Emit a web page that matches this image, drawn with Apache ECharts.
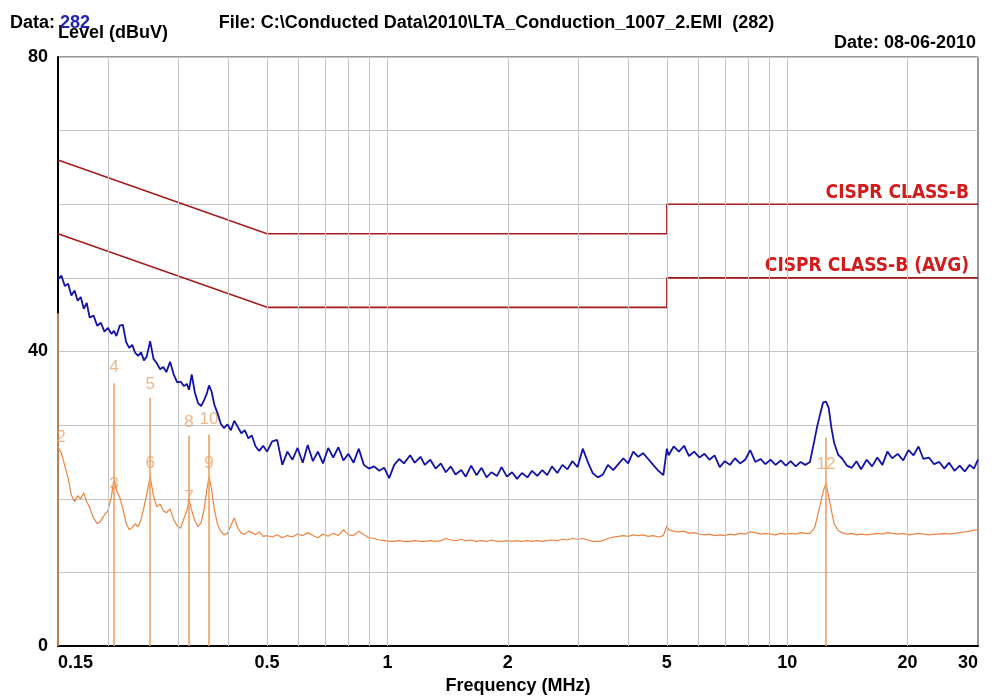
<!DOCTYPE html>
<html><head><meta charset="utf-8">
<script src="https://cdn.jsdelivr.net/npm/echarts@6/dist/echarts.min.js"></script>
<style>html,body{margin:0;padding:0;background:#fff}#c{width:993px;height:700px}</style>
</head><body><div id="c"></div>
<script>
// ---- data ----
const freqMHz = [
 0.150,0.153,0.156,0.159,0.162,0.165,0.168,0.171,0.174,0.177,
 0.180,0.184,0.188,0.192,0.196,0.200,0.204,0.207,0.210,0.214,
 0.218,0.222,0.226,0.230,0.234,0.238,0.242,0.246,0.250,0.255,
 0.260,0.265,0.270,0.275,0.280,0.286,0.292,0.298,0.304,0.310,
 0.315,0.319,0.324,0.330,0.336,0.342,0.348,0.353,0.358,0.363,
 0.369,0.376,0.383,0.390,0.398,0.406,0.414,0.422,0.431,0.440,
 0.449,0.458,0.468,0.478,0.489,0.500,
 0.515,0.530,0.546,0.562,0.579,0.596,0.614,0.632,0.651,0.670,
 0.690,0.711,0.732,0.754,0.776,0.799,0.823,0.848,0.873,0.899,
 0.926,0.954,0.982,1.01,1.04,1.07,1.10,1.14,1.17,1.21,
 1.24,1.28,1.32,1.36,1.40,1.44,1.48,1.53,1.57,1.62,
 1.67,1.72,1.77,1.82,1.88,1.93,1.99,2.05,2.11,2.17,
 2.24,2.30,2.37,2.44,
 2.51,2.58,2.66,2.74,2.82,2.90,2.99,3.08,3.17,3.26,
 3.36,3.46,3.56,3.67,3.78,3.89,4.00,4.12,4.24,4.36,
 4.49,4.62,4.76,4.90,5.00,5.05,5.20,5.36,5.52,5.68,
 5.85,6.03,6.21,6.39,6.58,6.78,6.98,7.19,7.40,7.62,
 7.85,8.08,8.32,8.57,8.82,9.08,9.35,9.63,9.92,10.2,
 10.5,10.8,11.1,
 11.4,11.7,11.9,12.1,12.3,12.5,12.7,12.9,13.1,13.4,
 13.7,14.1,14.5,14.9,15.3,15.8,16.3,16.8,17.3,17.8,
 18.3,18.9,19.5,20.1,20.7,21.3,21.9,22.6,23.3,24.0,
 24.7,25.4,26.2,27.0,27.8,28.6,29.3,30.0
];
const peakLevel = [
 49.8,50.3,48.9,49.2,47.6,48.3,46.9,47.4,45.8,46.6,
 44.6,44.9,43.5,43.9,42.7,43.2,42.4,42.8,42.1,43.5,
 43.6,41.3,40.5,40.9,39.8,39.4,39.9,38.8,39.3,41.4,
 39.0,38.4,37.6,37.9,37.2,38.6,36.9,35.8,35.9,35.3,
 35.6,34.8,36.9,34.4,33.0,32.6,33.4,34.2,35.4,34.6,
 32.8,31.6,30.2,29.6,30.1,29.3,30.6,29.8,28.9,29.3,
 28.2,28.6,27.1,26.5,27.2,26.4,
 27.8,28.0,24.6,26.4,25.3,26.9,24.9,27.3,25.1,26.4,
 24.8,26.9,25.6,27.0,25.2,26.1,24.9,26.8,24.6,24.1,
 24.4,23.8,24.2,22.8,24.6,25.4,24.8,25.9,24.9,25.7,
 24.6,25.3,24.1,24.8,23.6,24.4,23.3,23.9,23.0,24.5,
 23.2,24.2,22.9,23.6,23.1,24.3,23.0,23.6,22.7,23.5,
 22.9,23.8,23.1,23.9,
 23.2,24.4,23.5,24.6,24.0,25.1,24.3,26.8,25.0,23.5,
 22.9,23.3,24.6,23.9,24.7,25.5,24.8,26.4,25.7,26.2,
 25.4,24.6,23.8,23.2,26.8,25.9,27.1,26.4,27.2,25.8,
 26.4,25.6,26.1,25.3,25.9,24.3,25.1,24.6,25.5,24.8,
 25.3,26.6,25.0,25.4,24.7,25.3,24.6,25.2,24.5,25.1,
 24.4,25.0,24.6,
 25.0,28.0,30.0,31.6,33.1,33.2,32.3,29.6,27.6,26.0,
 25.5,24.5,24.2,25.1,24.0,25.3,24.4,25.6,24.6,26.4,
 25.5,26.1,25.2,26.6,25.9,27.1,25.4,25.6,24.7,25.0,
 24.1,24.9,23.8,24.5,23.7,24.6,24.1,25.3
];
const avgLevel = [
 27.0,26.2,24.5,22.8,20.5,19.6,20.4,20.0,20.8,19.6,
 18.8,17.4,16.6,17.0,17.8,18.4,20.3,22.6,21.2,20.2,
 18.6,16.7,15.8,16.1,16.6,16.2,17.2,18.8,20.6,23.0,
 20.4,18.9,19.3,18.4,18.1,18.6,17.2,16.3,16.0,17.4,
 18.3,19.9,18.4,17.0,16.2,16.8,18.6,21.0,23.0,21.4,
 18.6,16.5,15.6,15.1,15.3,16.4,17.4,16.1,15.3,15.2,
 15.6,15.4,15.1,15.5,14.9,15.0,
 14.8,15.1,14.7,15.0,14.8,15.2,15.0,15.4,15.0,14.7,
 15.2,14.9,15.3,15.0,15.8,15.1,15.0,15.6,15.1,14.7,
 14.6,14.4,14.3,14.2,14.2,14.3,14.2,14.2,14.3,14.2,
 14.2,14.3,14.2,14.3,14.6,14.4,14.3,14.5,14.3,14.4,
 14.2,14.3,14.2,14.4,14.2,14.2,14.3,14.2,14.3,14.2,
 14.3,14.2,14.3,14.2,
 14.3,14.4,14.3,14.5,14.4,14.6,14.5,14.6,14.4,14.2,
 14.2,14.3,14.6,14.8,14.9,15.0,14.9,15.1,15.0,15.1,
 14.9,15.0,14.8,15.0,16.3,15.8,15.6,15.5,15.6,15.3,
 15.4,15.2,15.1,15.2,15.0,15.1,15.0,15.2,15.1,15.3,
 15.2,15.5,15.4,15.2,15.3,15.2,15.1,15.3,15.2,15.3,
 15.2,15.4,15.3,
 15.3,16.0,17.6,19.3,21.0,22.1,20.3,18.4,16.6,15.7,
 15.4,15.2,15.3,15.1,15.2,15.1,15.2,15.3,15.2,15.4,
 15.3,15.2,15.3,15.1,15.2,15.3,15.2,15.1,15.2,15.2,
 15.3,15.2,15.3,15.4,15.5,15.6,15.7,15.8
];
const limitFreq = [0.15, 0.5, 5, 5, 30];
const limitQP = [66, 56, 56, 60, 60];
const limitAVG = [56, 46, 46, 50, 50];
const limitNames = ['CISPR CLASS-B', 'CISPR CLASS-B (AVG)'];
const xTickLabels = [0.15, 0.5, 1, 2, 5, 10, 20, 30];
const xGridValues = [0.2,0.3,0.4,0.5,0.6,0.7,0.8,0.9,1,2,3,4,5,6,7,8,9,10,20];
const yLabelled = [0, 40, 80];
const markerLineFreq = [0.15, 0.207, 0.255, 0.319, 0.358, 12.5];
const markerLineTop  = [45.2, 35.7, 33.7, 28.6, 28.7, 28.3];
const markerText      = ['2', '3', '4', '5', '6', '7', '8', '9', '10', '12'];
const markerTextFreq  = [0.1526, 0.207, 0.207, 0.255, 0.255, 0.319, 0.319, 0.358, 0.358, 12.5];
const markerTextLevel = [28.3, 22.0, 37.8, 35.5, 24.8, 20.2, 30.4, 24.8, 30.8, 24.7];
const headerData = '282';
const headerFile = 'File: C:\\Conducted Data\\2010\\LTA_Conduction_1007_2.EMI  (282)';
const headerDate = 'Date: 08-06-2010';

// ---- chart ----
const FONT = '"Liberation Sans", Arial, sans-serif';
const NARROW = '"Liberation Sans Narrow", "DejaVu Sans Condensed", "Liberation Sans", sans-serif';
const pairs = (xs, ys) => xs.map((x, i) => [x, ys[i]]);
const chart = echarts.init(document.getElementById('c'), null, {renderer: 'canvas'});
const bold18 = {fontFamily: FONT, fontWeight: 'bold', fontSize: 18, color: '#000'};

chart.setOption({
  animation: false,
  backgroundColor: '#fff',
  title: [
    {text: '{k|Data: }{v|' + headerData + '}', left: 10, top: 14, padding: 0,
     textStyle: {rich: {k: bold18, v: Object.assign({}, bold18, {color: '#2424b4'})}}},
    {text: headerFile, left: 'center', top: 14, padding: 0, textStyle: bold18},
    {text: headerDate, right: 17, top: 34, padding: 0, textStyle: bold18}
  ],
  grid: {left: 58, right: 15, top: 57, bottom: 50, show: true, borderColor: '#333', borderWidth: 1},
  xAxis: {
    type: 'log', logBase: 10, min: 0.15, max: 30,
    axisLine: {show: true, lineStyle: {color: '#000', width: 2}},
    axisTick: {show: false},
    splitLine: {show: false},
    minorSplitLine: {show: false},
    axisLabel: {customValues: xTickLabels, margin: 8, fontFamily: FONT, fontWeight: 'bold', fontSize: 18, color: '#000',
      alignMinLabel: 'left', alignMaxLabel: 'right',
      formatter: v => String(Number((+v).toPrecision(3)))},
    name: 'Frequency (MHz)', nameLocation: 'middle', nameGap: 31,
    nameTextStyle: bold18
  },
  yAxis: {
    type: 'value', min: 0, max: 80, interval: 10,
    axisLine: {show: true, lineStyle: {color: '#000', width: 2}},
    axisTick: {show: false},
    splitLine: {show: true, lineStyle: {color: '#c4c4c4', width: 1}},
    axisLabel: {margin: 10, fontFamily: FONT, fontWeight: 'bold', fontSize: 18, color: '#000',
      formatter: v => (yLabelled.indexOf(v) >= 0 ? String(v) : '')},
    name: 'Level (dBuV)', nameLocation: 'end', nameGap: 24,
    nameTextStyle: Object.assign({}, bold18, {align: 'left', verticalAlign: 'middle'})
  },
  series: [
    {
      name: 'grid', type: 'line', data: [], z: 0, silent: true,
      markLine: {silent: true, symbol: ['none', 'none'], label: {show: false},
        lineStyle: {color: '#c4c4c4', width: 1, type: 'solid'},
        data: xGridValues.map(v => ({xAxis: v}))}
    },
    {
      name: limitNames[0], type: 'line', data: pairs(limitFreq, limitQP), z: 2, silent: true,
      symbol: 'none', lineStyle: {color: '#a51c1c', width: 1.6},
      endLabel: {show: true, formatter: limitNames[0], align: 'right', verticalAlign: 'bottom', offset: [-17, -2],
        fontFamily: NARROW, fontWeight: 'bold', fontSize: 19, color: '#d21c1c'}
    },
    {
      name: limitNames[1], type: 'line', data: pairs(limitFreq, limitAVG), z: 2, silent: true,
      symbol: 'none', lineStyle: {color: '#a51c1c', width: 1.6},
      endLabel: {show: true, formatter: limitNames[1], align: 'right', verticalAlign: 'bottom', offset: [-17, -2],
        fontFamily: NARROW, fontWeight: 'bold', fontSize: 19, color: '#d21c1c'}
    },
    {
      name: 'markers', type: 'scatter', z: 3, silent: true,
      data: markerTextFreq.map((f, i) => ({value: [f, markerTextLevel[i]], name: markerText[i]})),
      symbolSize: 1, itemStyle: {color: 'rgba(0,0,0,0)'},
      label: {show: true, position: 'inside', formatter: p => p.name, fontFamily: FONT, fontSize: 17, color: '#eaa46a'},
      markLine: {silent: true, symbol: ['none', 'none'], label: {show: false},
        lineStyle: {color: '#f0a060', width: 1.6, type: 'solid'},
        data: markerLineFreq.map((f, i) => [{coord: [f, 0]}, {coord: [f, markerLineTop[i]]}])}
    },
    {
      name: 'Average', type: 'line', data: pairs(freqMHz, avgLevel), z: 4, silent: true,
      symbol: 'none', lineStyle: {color: '#ea8440', width: 1.2}
    },
    {
      name: 'Peak', type: 'line', data: pairs(freqMHz, peakLevel), z: 5, silent: true,
      symbol: 'none', lineStyle: {color: '#1212a8', width: 1.8}
    }
  ]
});
</script>
</body></html>
